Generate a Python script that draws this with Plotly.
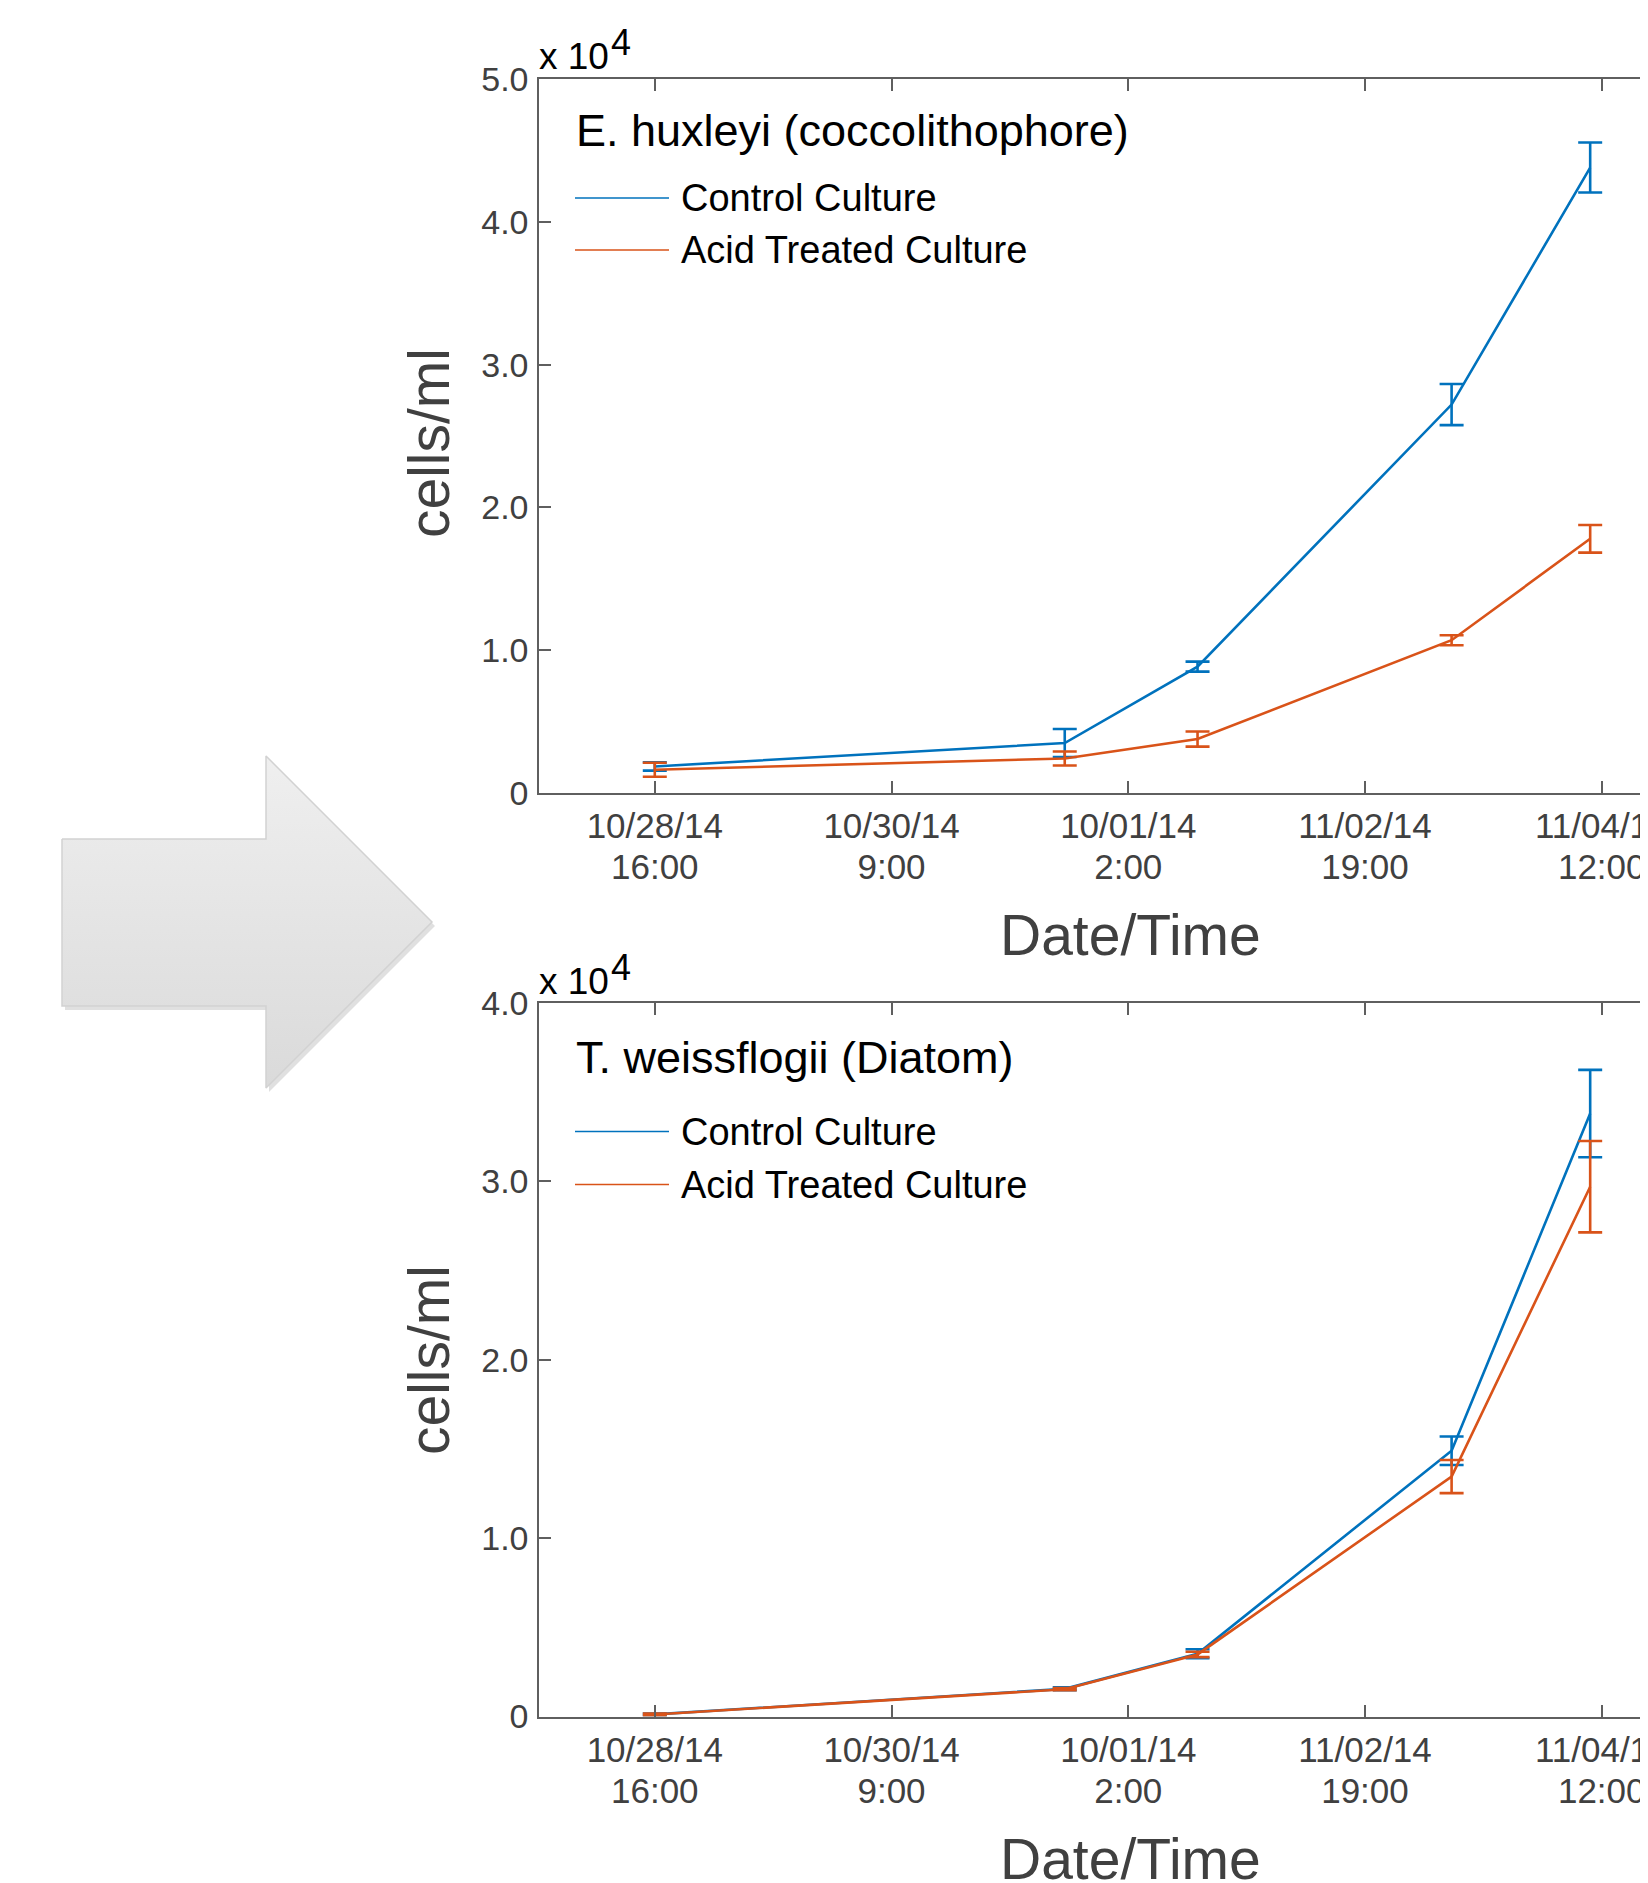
import plotly.graph_objects as go

# ---------------- data ----------------
SAMPLE_TIMES = ['2014-10-28 16:00', '2014-10-31 15:00', '2014-11-01 14:00',
                '2014-11-03 10:00', '2014-11-04 10:00']

EH_CONTROL = [1860, 3500, 8850, 27200, 43800]
EH_CONTROL_ERR = [290, 980, 350, 1440, 1750]
EH_ACID = [1630, 2420, 3780, 10700, 17800]
EH_ACID_ERR = [490, 490, 530, 350, 970]

TW_CONTROL = [120, 1550, 3520, 14900, 33800]
TW_CONTROL_ERR = [50, 80, 250, 800, 2450]
TW_ACID = [110, 1530, 3480, 13450, 29700]
TW_ACID_ERR = [50, 60, 150, 930, 2560]

TICK_TIMES = ['2014-10-28 16:00', '2014-10-30 09:00', '2014-11-01 02:00',
              '2014-11-02 19:00', '2014-11-04 12:00']
TICK_DATES = ['10/28/14', '10/30/14', '10/01/14', '11/02/14', '11/04/14']
TICK_HOURS = ['16:00', '9:00', '2:00', '19:00', '12:00']
X_RANGE = ['2014-10-27 20:00', '2014-11-04 21:24']

TOP_YTICKS = [0, 10000, 20000, 30000, 40000, 50000]
TOP_YTEXT = ['0', '1.0', '2.0', '3.0', '4.0', '5.0']
BOT_YTICKS = [0, 10000, 20000, 30000, 40000]
BOT_YTEXT = ['0', '1.0', '2.0', '3.0', '4.0']

TITLES = ['E. huxleyi (coccolithophore)', 'T. weissflogii (Diatom)']
SERIES_NAMES = ['Control Culture', 'Acid Treated Culture']

# page offset of the plot div (browser body margin)
OFF = 8

# decorative arrow outline (screen pixels, y from top)
ARROW_X = [62, 266, 266, 432, 266, 266, 62, 62]
ARROW_Y = [839, 839, 756, 922, 1088, 1006, 1006, 839]

# ---------------- style ----------------
W, H = 1648, 1883
FONT = 'Liberation Sans, Arial, Helvetica, sans-serif'
BLUE = '#0072BD'
ORANGE = '#D95319'
AXC = '#5f5f5f'
TXT = '#404040'


def px_x(px):
    return (px - OFF) / W


def px_y(py):
    return 1 - (py - OFF) / H


X_DOM = [px_x(539.3), 1.0]
TOP_DOM = [px_y(793), px_y(79)]
BOT_DOM = [px_y(1716.5), px_y(1003)]

fig = go.Figure()

# arrow (shadow + body)
fig.add_trace(go.Scatter(
    x=[v - OFF + 3 for v in ARROW_X], y=[v - OFF + 4 for v in ARROW_Y], mode='lines',
    fill='toself', fillcolor='rgba(0,0,0,0.12)', line=dict(width=0),
    xaxis='x3', yaxis='y3', hoverinfo='skip', showlegend=False))
fig.add_trace(go.Scatter(
    x=[v - OFF for v in ARROW_X], y=[v - OFF for v in ARROW_Y], mode='lines', fill='toself',
    fillgradient=dict(type='vertical',
                      colorscale=[[0, '#dadada'], [1, '#efefef']]),
    line=dict(width=1.5, color='#d2d2d2'),
    xaxis='x3', yaxis='y3', hoverinfo='skip', showlegend=False))


def add_series(xa, ya, yvals, errs, color):
    fig.add_trace(go.Scatter(
        x=SAMPLE_TIMES, y=yvals, mode='lines',
        line=dict(color=color, width=2.6),
        error_y=dict(type='data', array=errs, visible=True, color=color,
                     thickness=2.6, width=12),
        xaxis=xa, yaxis=ya, showlegend=False))


add_series('x', 'y', EH_CONTROL, EH_CONTROL_ERR, BLUE)
add_series('x', 'y', EH_ACID, EH_ACID_ERR, ORANGE)
add_series('x2', 'y2', TW_CONTROL, TW_CONTROL_ERR, BLUE)
add_series('x2', 'y2', TW_ACID, TW_ACID_ERR, ORANGE)

# invisible helper traces so the second tick-label row axes are drawn
for xa, ya in [('x4', 'y'), ('x5', 'y2')]:
    fig.add_trace(go.Scatter(x=SAMPLE_TIMES[:1], y=[None], mode='lines',
                             xaxis=xa, yaxis=ya, hoverinfo='skip',
                             showlegend=False))

xcommon = dict(
    domain=X_DOM, type='date', range=X_RANGE, automargin=False,
    tickmode='array', tickvals=TICK_TIMES,
    showgrid=False, zeroline=False, ticklabeloverflow='allow',
    tickfont=dict(family=FONT, size=35, color=TXT), fixedrange=True)
xmain = dict(
    **xcommon, ticktext=TICK_DATES,
    ticks='inside', ticklen=12, tickwidth=2, tickcolor=AXC,
    showline=True, linecolor=AXC, linewidth=2, mirror='ticks',
    ticklabelstandoff=1)
xsecond = dict(
    **xcommon, ticktext=TICK_HOURS, ticks='', showline=False,
    ticklabelstandoff=50)
ycommon = dict(
    ticks='inside', ticklen=12, tickwidth=2, tickcolor=AXC, automargin=False,
    showline=True, linecolor=AXC, linewidth=2, mirror=False,
    showgrid=False, zeroline=False, ticklabelstandoff=2,
    tickfont=dict(family=FONT, size=34, color=TXT), fixedrange=True)

fig.update_layout(
    width=W, height=H, margin=dict(l=0, r=0, t=0, b=0, autoexpand=False),
    paper_bgcolor='white', plot_bgcolor='white', showlegend=False,
    xaxis=dict(**xmain, anchor='y'),
    yaxis=dict(**ycommon, domain=TOP_DOM, range=[0, 50000],
               tickvals=TOP_YTICKS, ticktext=TOP_YTEXT, anchor='x'),
    xaxis2=dict(**xmain, anchor='y2'),
    yaxis2=dict(**ycommon, domain=BOT_DOM, range=[0, 40000],
                tickvals=BOT_YTICKS, ticktext=BOT_YTEXT, anchor='x2'),
    xaxis4=dict(**xsecond, anchor='y', overlaying='x'),
    xaxis5=dict(**xsecond, anchor='y2', overlaying='x2'),
    xaxis3=dict(domain=[0, 0.3], range=[0, 0.3 * W], visible=False,
                fixedrange=True, automargin=False),
    yaxis3=dict(domain=[0, 1], range=[H, 0], visible=False, anchor='x3',
                fixedrange=True, automargin=False),
)

ann = []
shapes = []

for title, top_px, title_y, e1, e2, center_y, xlab_y in [
        (TITLES[0], 79, 130, 198, 250, 443, 935),
        (TITLES[1], 1003, 1057, 1131.5, 1184.5, 1360, 1859)]:
    # multiplier label
    ann.append(dict(xref='paper', yref='paper', x=px_x(537), y=px_y(top_px - 22),
                    xanchor='left', yanchor='middle', showarrow=False,
                    text='x 10', font=dict(family=FONT, size=37, color='black')))
    ann.append(dict(xref='paper', yref='paper', x=px_x(609), y=px_y(top_px - 36),
                    xanchor='left', yanchor='middle', showarrow=False,
                    text='4', font=dict(family=FONT, size=36, color='black')))
    # legend title
    ann.append(dict(xref='paper', yref='paper', x=px_x(574), y=px_y(title_y),
                    xanchor='left', yanchor='middle', showarrow=False,
                    text=title, font=dict(family=FONT, size=45, color='black')))
    for name, ey, col in [(SERIES_NAMES[0], e1, BLUE), (SERIES_NAMES[1], e2, ORANGE)]:
        shapes.append(dict(type='line', xref='paper', yref='paper',
                           x0=px_x(575), x1=px_x(669), y0=px_y(ey), y1=px_y(ey),
                           line=dict(color=col, width=1.6)))
        ann.append(dict(xref='paper', yref='paper', x=px_x(679), y=px_y(ey),
                        xanchor='left', yanchor='middle', showarrow=False,
                        text=name, font=dict(family=FONT, size=38, color='black')))
    # y-axis title
    ann.append(dict(xref='paper', yref='paper', x=px_x(429), y=px_y(center_y),
                    xanchor='center', yanchor='middle', showarrow=False,
                    textangle=-90, text='cells/ml',
                    font=dict(family=FONT, size=57, color=TXT)))
    # x-axis title
    ann.append(dict(xref='paper', yref='paper', x=px_x(1130), y=px_y(xlab_y),
                    xanchor='center', yanchor='middle', showarrow=False,
                    text='Date/Time', font=dict(family=FONT, size=57, color=TXT)))

fig.update_layout(annotations=ann, shapes=shapes)

fig.write_html('out.html')
